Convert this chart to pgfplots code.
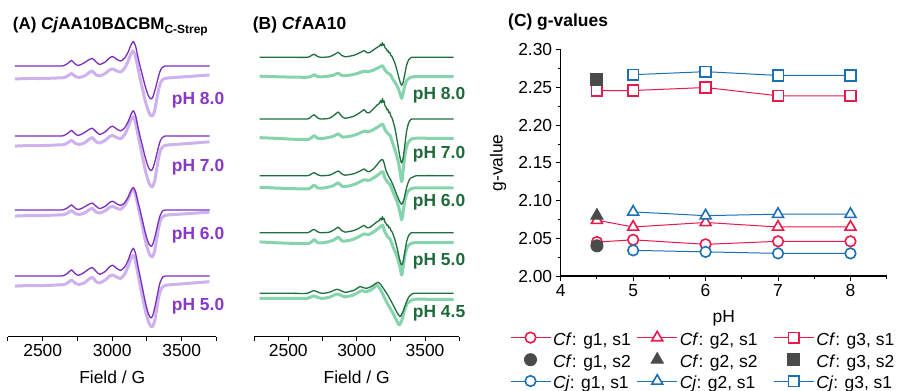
\documentclass[border=0pt]{standalone}
\usepackage{pgfplots}
\pgfplotsset{compat=1.18}
\usepackage{pgfplotstable}
\usepackage{fontspec}
\setmainfont{Liberation Sans}
\definecolor{Apur}{HTML}{7B2CBF}
\definecolor{Alight}{HTML}{CDB2EE}
\definecolor{Alab}{HTML}{8838C8}
\definecolor{Bdark}{HTML}{1F6E3E}
\definecolor{Blight}{HTML}{86D4AD}
\definecolor{Blab}{HTML}{1F6A3C}
\definecolor{Cred}{HTML}{E8194B}
\definecolor{Cblue}{HTML}{1A6FB5}
\definecolor{Cgray}{HTML}{4A4A4A}
\newcommand\fs{\fontsize{17.5}{21}\selectfont}

% Panel A templates (G, offset in bp from baseline)
\pgfplotstableread{
G y
2300 0
2500 0
2620 0
2650 0.3
2680 2.5
2707 5.5
2730 2.5
2755 0.5
2790 2.5
2830 6
2857 7.5
2885 4
2910 1.5
2950 4
2980 8
3004 9.5
3035 6.5
3062 5
3090 8
3115 14
3135 21
3152 24.5
3168 20
3185 9
3200 0
3215 -8
3235 -19
3255 -28
3270 -32
3282 -33
3295 -30
3312 -22
3330 -12
3345 -5
3360 -1.5
3380 0
3500 0
3700 0
}\AD
\pgfplotstableread{
G y
2300 -1
2400 -0.5
2500 -0.5
2600 0
2650 0.3
2680 2
2707 4.5
2735 1.5
2760 0.5
2800 2
2835 5.5
2857 7
2885 3
2910 2
2950 4.5
2980 8
3004 9
3035 7
3062 6
3090 10
3115 17
3135 24
3150 27
3165 23
3185 10
3200 0
3220 -12
3240 -24
3260 -33
3275 -37
3290 -38
3305 -33
3320 -22
3335 -11
3350 -4
3370 -1
3400 0
3500 1
3600 2
3700 3
}\AL
% Panel B templates
\pgfplotstableread{
G y
2290 0
2500 0
2640 0
2665 1.5
2688 3
2710 1.2
2735 0
2800 0.5
2840 3
2865 5
2890 2
2915 0.5
2980 2
3030 5
3055 6.7
3075 4.5
3092 4.5
3120 7
3150 10
3165 11
3175 13
3182 11.5
3188 14.5
3195 12
3200 13
3207 9.5
3215 8.5
3222 6.5
3228 7
3235 4.5
3242 5
3250 2
3258 1
3268 -2
3280 -6
3295 -13
3310 -21
3322 -26.5
3330 -28
3340 -25
3352 -17
3365 -8
3380 -2.5
3395 -0.5
3410 0
3550 0
3710 0
}\BDJ
\pgfplotstableread{
G y
2290 0
2500 0
2640 0
2665 1.5
2690 3
2712 1.2
2735 0
2800 0.5
2840 3
2866 4.7
2890 2
2915 0.5
2980 2
3030 5
3055 6.7
3075 4.5
3092 4
3120 6.5
3150 11
3170 14.5
3188 16.4
3200 13
3215 5
3232 0
3248 -4
3268 -10
3293 -19
3315 -26
3330 -28.6
3345 -24
3365 -12
3385 -4
3400 -2
3420 -1
3450 0
3710 0
}\BDS
\pgfplotstableread{
G y
2290 0.5
2400 0
2550 -0.5
2650 -0.5
2670 0.5
2690 2
2715 0
2760 0
2830 1.5
2865 3.5
2895 1
2950 1.5
3000 3
3055 5.5
3085 5
3120 6.5
3160 9
3190 11
3205 7
3225 4
3244 2.3
3268 -3.3
3290 -8
3305 -12
3318 -17
3330 -21.7
3342 -15
3354 -8
3370 -3
3390 -1
3420 0
3550 0
3710 0
}\BL
\pgfplotstableread{
G y
2290 0
2500 0
2640 0
2683 2.7
2744 0
2800 1
2858 4
2915 1
2980 3
3024 6.7
3050 5.5
3073 5
3110 7
3140 10
3158 11
3178 8.5
3195 5
3220 0
3245 -6
3268 -12
3295 -19
3317 -23.3
3340 -18
3366 -8
3385 -3
3402 -1
3420 0
3550 0
3710 0
}\BFD
\pgfplotstableread{
G y
2290 0
2500 0
2640 0
2683 2.3
2740 0
2800 1
2858 4.3
2915 1.5
2980 3.5
3037 7.7
3065 6.5
3100 8
3130 11
3147 13.3
3170 10
3195 3
3220 -4
3245 -10
3270 -16
3295 -23
3312 -26.7
3330 -22
3350 -12
3370 -5
3390 -3
3420 -1
3550 -1
3710 -1
}\BFL

% #1 style, #2 table, #3 baseline offset, #4 scale (positive part), #5 scale (negative part)
\newcommand\spec[5]{\addplot[#1] table[x=G, y expr={(\thisrow{y}>0) ? (#4*(\thisrow{y})+#3) : (#5*(\thisrow{y})+#3)}]{#2};}

\pgfplotsset{
  /pgf/number format/assume math mode=true,
  spec/.style={scale only axis, anchor=south west, height=306.7bp,
    ymin=54.3, ymax=361, xmin=2250, xmax=3750, clip=false,
    axis x line*=bottom, axis y line=none,
    xtick={2500,3000,3500}, minor xtick={2250,2750,3250,3750},
    tick align=outside, major tick length=4.5bp, minor tick length=4.5bp,
    tick style={black, line width=1bp}, axis line style={black, line width=1.1bp},
    xticklabel style={font=\fs, /pgf/number format/1000 sep={}},
    xlabel={Field / G}, xlabel style={at={(axis description cs:0.5,-0.1542)}, anchor=base, font=\fs}},
  dA/.style={color=Apur, line width=1.3bp, smooth, tension=0.4, line join=round},
  lA/.style={color=Alight, line width=3bp, smooth, tension=0.4, line join=round},
  dB/.style={color=Bdark, line width=1.3bp, smooth, tension=0.4, line join=round},
  lB/.style={color=Blight, line width=3bp, smooth, tension=0.4, line join=round},
  onlymarklegend/.style={legend image code/.code={\draw[##1] plot coordinates {(20bp,2bp)};}},
  linemarklegend/.style={legend image code/.code={\draw[mark repeat=2,mark phase=2,##1] plot coordinates {(0bp,2bp) (20bp,2bp) (40bp,2bp)};}},
}

\begin{document}
\begin{tikzpicture}
\useasboundingbox (0,0) rectangle (903bp,391bp);

% ---------- Panel A ----------
\begin{axis}[spec, at={(7.95bp,54.3bp)}, width=208.5bp]
\spec{lA}{\AL}{313}{1}{1}
\spec{dA}{\AD}{325}{1}{1}
\spec{lA}{\AL}{246}{1.05}{1.1}
\spec{dA}{\AD}{255}{1.03}{1.05}
\spec{lA}{\AL}{176}{0.95}{1.1}
\spec{dA}{\AD}{181}{0.92}{1.1}
\spec{lA}{\AL}{106}{1.1}{1.1}
\spec{dA}{\AD}{115}{1.13}{1.27}
\end{axis}

% ---------- Panel B ----------
\begin{axis}[spec, at={(254.1bp,54.3bp)}, width=205.1bp]
\spec{lB}{\BL}{314.3}{1}{1}
\spec{dB}{\BDJ}{333.7}{1}{1}
\spec{lB}{\BL}{252.7}{1.3}{2.0}
\spec{dB}{\BDJ}{272}{1.4}{1.57}
\spec{lB}{\BL}{203}{1.5}{1.47}
\spec{dB}{\BDS}{215.3}{1}{1}
\spec{lB}{\BL}{148.3}{1.6}{1.49}
\spec{dB}{\BDJ}{158.3}{1.1}{1.15}
\spec{lB}{\BFL}{92.7}{1}{1}
\spec{dB}{\BFD}{97.7}{1}{1}
\end{axis}

% ---------- Panel C ----------
\begin{axis}[at={(560.7bp,115bp)}, anchor=south west, scale only axis,
  width=326bp, height=226.2bp, xmin=4, xmax=8.5, ymin=2, ymax=2.3, clip=false,
  axis x line*=bottom, axis y line*=left,
  xtick={4,5,6,7,8}, minor xtick={4.5,5.5,6.5,7.5,8.5},
  ytick={2.00,2.05,2.10,2.15,2.20,2.25,2.30},
  minor ytick={2.025,2.075,2.125,2.175,2.225,2.275},
  yticklabel style={/pgf/number format/.cd, fixed, fixed zerofill, precision=2},
  tick label style={font=\fs},
  tick align=outside, major tick length=5bp, minor tick length=3bp,
  tick style={black, line width=1bp}, axis line style={black, line width=1.1bp},
  xlabel={pH}, xlabel style={at={(axis description cs:0.5,-0.2065)}, anchor=base, font=\fs},
  ylabel={g-value}, ylabel style={at={(axis description cs:-0.192,0.5)}, anchor=center, font=\fs},
  legend columns=3, legend cell align=left,
  linemarklegend,
  legend style={at={(axis description cs:-0.1555,-0.2445)}, anchor=north west,
    draw=none, fill=none, inner sep=0pt, outer sep=0pt, row sep=5bp, font=\fs,
    nodes={inner sep=1bp},
    /tikz/every odd column/.append style={column sep=1bp},
    /tikz/column 2/.append style={column sep=5bp},
    /tikz/column 4/.append style={column sep=15bp}},
  every axis plot/.append style={line width=1bp},
]
\addplot[Cred, mark=*, mark size=5.3bp, mark options={fill=white, line width=1.6bp}]
  coordinates {(4.5,2.045) (5,2.048) (6,2.042) (7,2.046) (8,2.046)};
\addlegendentry{\textit{Cf}: g1, s1}
\addplot[Cred, mark=triangle*, mark size=6.3bp, mark options={fill=white, line width=1.6bp}]
  coordinates {(4.5,2.074) (5,2.065) (6,2.071) (7,2.065) (8,2.065)};
\addlegendentry{\textit{Cf}: g2, s1}
\addplot[Cred, mark=square*, mark size=5.3bp, mark options={fill=white, line width=1.6bp}]
  coordinates {(4.5,2.246) (5,2.246) (6,2.250) (7,2.239) (8,2.239)};
\addlegendentry{\textit{Cf}: g3, s1}
\addplot[only marks, Cgray, mark=*, mark size=6bp, onlymarklegend]
  coordinates {(4.5,2.040)};
\addlegendentry{\textit{Cf}: g1, s2}
\addplot[only marks, Cgray, mark=triangle*, mark size=7bp, onlymarklegend]
  coordinates {(4.5,2.080)};
\addlegendentry{\textit{Cf}: g2, s2}
\addplot[only marks, Cgray, mark=square*, mark size=6bp, onlymarklegend]
  coordinates {(4.5,2.260)};
\addlegendentry{\textit{Cf}: g3, s2}
\addplot[Cblue, mark=*, mark size=5.3bp, mark options={fill=white, line width=1.6bp}]
  coordinates {(5,2.034) (6,2.032) (7,2.030) (8,2.030)};
\addlegendentry{\textit{Cj}: g1, s1}
\addplot[Cblue, mark=triangle*, mark size=6.3bp, mark options={fill=white, line width=1.6bp}]
  coordinates {(5,2.085) (6,2.080) (7,2.082) (8,2.082)};
\addlegendentry{\textit{Cj}: g2, s1}
\addplot[Cblue, mark=square*, mark size=5.3bp, mark options={fill=white, line width=1.6bp}]
  coordinates {(5,2.267) (6,2.271) (7,2.266) (8,2.266)};
\addlegendentry{\textit{Cj}: g3, s1}
\end{axis}

% ---------- Texts ----------
\begin{scope}[every node/.style={inner sep=0pt}]
\node[anchor=base west, font=\bfseries\fontsize{17}{20}\selectfont] at (12.7bp,361.7bp)
  {(A) \textit{Cj}AA10BΔCBM{\fontsize{12}{14}\selectfont\raisebox{-4bp}{C-Strep}}};
\node[anchor=base west, font=\bfseries\fs] at (252.7bp,361.7bp) {(B) \textit{Cf}AA10};
\node[anchor=base west, font=\bfseries\fs] at (508bp,364.3bp) {(C) g-values};

\node[anchor=west, font=\bfseries\fs, text=Alab] at (171.7bp,291bp) {pH 8.0};
\node[anchor=west, font=\bfseries\fs, text=Alab] at (171.7bp,223.5bp) {pH 7.0};
\node[anchor=west, font=\bfseries\fs, text=Alab] at (171.7bp,155.7bp) {pH 6.0};
\node[anchor=west, font=\bfseries\fs, text=Alab] at (171.7bp,85bp) {pH 5.0};

\node[anchor=west, font=\bfseries\fs, text=Blab] at (412.7bp,295.7bp) {pH 8.0};
\node[anchor=west, font=\bfseries\fs, text=Blab] at (412.7bp,236.3bp) {pH 7.0};
\node[anchor=west, font=\bfseries\fs, text=Blab] at (412.7bp,188.3bp) {pH 6.0};
\node[anchor=west, font=\bfseries\fs, text=Blab] at (412.7bp,129.7bp) {pH 5.0};
\node[anchor=west, font=\bfseries\fs, text=Blab] at (412.7bp,77.7bp) {pH 4.5};
\end{scope}
\end{tikzpicture}
\end{document}
